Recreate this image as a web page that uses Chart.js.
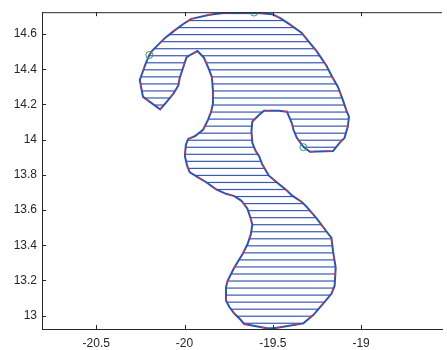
<!DOCTYPE html>
<html>
<head>
<meta charset="utf-8">
<script src="https://cdn.jsdelivr.net/npm/chart.js@4.4.1/dist/chart.umd.min.js"></script>
<style>
  html, body { margin: 0; padding: 0; background: #fff; overflow: hidden; }
</style>
</head>
<body>
<canvas id="shapeChart" width="447" height="350"></canvas>
<script>
// outline of the region, traced clockwise from the top-left
const outlineX = [
  -19.961, -19.858, -19.784, -19.606, -19.504, -19.458, -19.402, -19.336, -19.299, -19.252,
  -19.196, -19.168, -19.131, -19.103, -19.084, -19.069, -19.075, -19.094, -19.122, -19.159,
  -19.290, -19.327, -19.364, -19.383, -19.392, -19.420, -19.466, -19.550, -19.578, -19.616,
  -19.621, -19.616, -19.597, -19.578, -19.560, -19.522, -19.466, -19.420, -19.392, -19.336,
  -19.308, -19.252, -19.196, -19.168, -19.159, -19.144, -19.150, -19.168, -19.215, -19.271,
  -19.327, -19.458, -19.494, -19.532, -19.662, -19.681, -19.718, -19.746, -19.765, -19.765,
  -19.756, -19.718, -19.672, -19.644, -19.625, -19.616, -19.625, -19.644, -19.672, -19.681,
  -19.718, -19.765, -19.821, -19.877, -19.923, -19.970, -19.985, -19.998, -19.992, -19.979,
  -19.942, -19.895, -19.867, -19.849, -19.839, -19.839, -19.845, -19.862, -19.891, -19.927,
  -19.961, -19.989, -20.007, -20.026, -20.035, -20.063, -20.101, -20.138, -20.235, -20.246,
  -20.253, -20.241, -20.221, -20.199, -20.185, -20.147, -20.110, -20.063, -20.007, -19.961
];
const outlineY = [
  14.686, 14.709, 14.720, 14.722, 14.713, 14.690, 14.653, 14.606, 14.559, 14.503,
  14.420, 14.364, 14.299, 14.224, 14.168, 14.131, 14.075, 14.010, 13.982, 13.935,
  13.931, 13.959, 14.010, 14.056, 14.093, 14.159, 14.164, 14.164, 14.140, 14.103,
  14.047, 13.982, 13.935, 13.907, 13.860, 13.795, 13.748, 13.711, 13.683, 13.646,
  13.618, 13.552, 13.478, 13.441, 13.366, 13.273, 13.170, 13.124, 13.068, 13.003,
  12.956, 12.934, 12.928, 12.928, 12.952, 12.975, 13.012, 13.049, 13.086, 13.161,
  13.198, 13.273, 13.348, 13.404, 13.460, 13.516, 13.552, 13.608, 13.646, 13.655,
  13.679, 13.692, 13.717, 13.758, 13.786, 13.814, 13.851, 13.907, 13.972, 14.004,
  14.019, 14.056, 14.112, 14.159, 14.205, 14.280, 14.355, 14.401, 14.467, 14.503,
  14.485, 14.467, 14.411, 14.355, 14.308, 14.261, 14.215, 14.172, 14.243, 14.299,
  14.340, 14.373, 14.429, 14.481, 14.503, 14.541, 14.578, 14.615, 14.657, 14.686
];

// green circle markers
const markerX = [-20.199, -19.606, -19.327];
const markerY = [14.481, 14.722, 13.957];

const xTicks = [-20.5, -20, -19.5, -19];
const yTicks = [13, 13.2, 13.4, 13.6, 13.8, 14, 14.2, 14.4, 14.6];

const HATCH_STEP = 0.04;
const AXIS_COLOR = '#262626';
const FONT = { family: "'Liberation Sans', Arial, sans-serif", size: 12 };

const outline = outlineX.map((x, i) => ({ x: x, y: outlineY[i] }));
const markers = markerX.map((x, i) => ({ x: x, y: markerY[i] }));

// MATLAB style box: top edge plus inward tick marks
const inwardTicks = {
    id: 'inwardTicks',
    afterDatasetsDraw(chart) {
        const { ctx, chartArea: a, scales: { x, y } } = chart;
        ctx.save();
        ctx.strokeStyle = AXIS_COLOR;
        ctx.lineWidth = 1;
        ctx.beginPath();
        ctx.moveTo(a.left, a.top + 0.5);
        ctx.lineTo(a.right, a.top + 0.5);
        x.ticks.forEach(t => {
            const px = Math.round(x.getPixelForValue(t.value)) + 0.5;
            ctx.moveTo(px, a.bottom);
            ctx.lineTo(px, a.bottom - 4);
            ctx.moveTo(px, a.top);
            ctx.lineTo(px, a.top + 4);
        });
        y.ticks.forEach(t => {
            const py = Math.round(y.getPixelForValue(t.value)) + 0.5;
            ctx.moveTo(a.left, py);
            ctx.lineTo(a.left + 4, py);
        });
        ctx.stroke();
        ctx.restore();
    }
};

const fmt = v => String(Number(v.toFixed(2)));

const chart = new Chart(document.getElementById('shapeChart'), {
    type: 'scatter',
    data: {
        datasets: [
            {
                data: markers,
                showLine: false,
                pointRadius: 3.5,
                pointBorderWidth: 1,
                pointBorderColor: '#2e9a6e',
                pointBackgroundColor: 'rgba(0,0,0,0)'
            },
            {
                data: outline,
                showLine: true,
                fill: false,
                borderColor: '#e8303a',
                borderWidth: 1.2,
                borderDash: [4, 13],
                pointRadius: 0,
                tension: 0
            },
            {
                data: outline,
                showLine: true,
                fill: 'shape',
                backgroundColor: 'rgba(0,0,0,0)',
                borderColor: '#3353aa',
                borderWidth: 2,
                pointRadius: 0,
                tension: 0
            }
        ]
    },
    options: {
        responsive: false,
        devicePixelRatio: 1,
        animation: false,
        layout: { padding: { top: 7, right: 0, left: 0, bottom: 0 } },
        plugins: { legend: { display: false }, tooltip: { enabled: false } },
        scales: {
            x: {
                type: 'linear',
                min: -20.807,
                max: -18.542,
                afterBuildTicks: s => { s.ticks = xTicks.map(v => ({ value: v })); },
                afterFit: s => { s.height = 21; },
                grid: { drawOnChartArea: false, drawTicks: false },
                border: { color: AXIS_COLOR, width: 1 },
                ticks: { color: AXIS_COLOR, font: FONT, padding: 7, maxRotation: 0, autoSkip: false, callback: fmt }
            },
            y: {
                type: 'linear',
                min: 12.924,
                max: 14.724,
                afterBuildTicks: s => { s.ticks = yTicks.map(v => ({ value: v })); },
                afterFit: s => { s.width = 42; },
                grid: { drawOnChartArea: false, drawTicks: false },
                border: { color: AXIS_COLOR, width: 1 },
                ticks: { color: AXIS_COLOR, font: FONT, padding: 5, autoSkip: false, callback: fmt }
            }
        }
    },
    plugins: [inwardTicks]
});

// horizontal hatching, lined up with the y scale
function hatchPattern(chart) {
    const ys = chart.scales.y;
    const c = document.createElement('canvas');
    c.width = chart.width;
    c.height = chart.height;
    const g = c.getContext('2d');
    g.fillStyle = '#3a5ab0';
    const k0 = Math.ceil(ys.min / HATCH_STEP);
    const k1 = Math.floor(ys.max / HATCH_STEP);
    for (let k = k0; k <= k1; k++) {
        const py = ys.getPixelForValue(k * HATCH_STEP);
        g.fillRect(0, py, c.width, 1.2);
    }
    return chart.ctx.createPattern(c, 'no-repeat');
}

chart.data.datasets[2].backgroundColor = hatchPattern(chart);
chart.update('none');
</script>
</body>
</html>
